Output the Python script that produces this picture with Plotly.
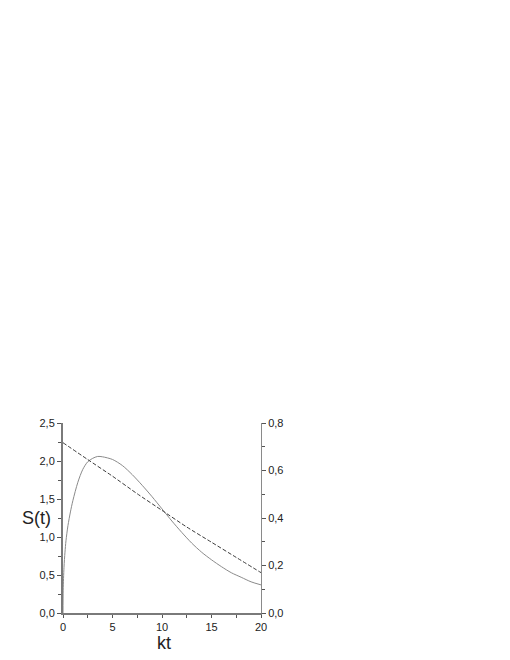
import plotly.graph_objects as go

# Solid curve, left axis S(t)
kt_solid = [0, 0.02, 0.1, 0.2, 0.3, 0.5, 0.75, 1.0, 1.5, 2.0, 2.5, 3.0, 3.5, 4.0, 5, 6, 7, 8, 9, 10,
            11, 12, 13, 14, 15, 16, 17, 18, 19, 20]
s_solid = [0, 0.3, 0.6, 0.8, 0.95, 1.15, 1.33, 1.48, 1.72, 1.89, 1.99, 2.035, 2.06, 2.055, 2.02, 1.94, 1.82, 1.68,
           1.53, 1.37, 1.21, 1.06, 0.92, 0.80, 0.70, 0.61, 0.53, 0.47, 0.41, 0.37]

# Dashed curve, right axis
kt_dash = [0, 2.5, 5, 7.5, 10, 12.5, 15, 17.5, 20]
v_dash = [0.717, 0.646, 0.576, 0.502, 0.432, 0.362, 0.298, 0.234, 0.170]

left_ticks = [0.0, 0.5, 1.0, 1.5, 2.0, 2.5]
right_ticks = [0.0, 0.2, 0.4, 0.6, 0.8]
x_ticks = [0, 5, 10, 15, 20]

fig = go.Figure()
fig.add_trace(go.Scatter(x=kt_solid, y=s_solid, mode="lines",
                         line=dict(color="#8a8a8a", width=1, shape="spline", smoothing=0.8),
                         xaxis="x", yaxis="y", showlegend=False, hoverinfo="skip"))
fig.add_trace(go.Scatter(x=kt_dash, y=v_dash, mode="lines",
                         line=dict(color="#3c3c3c", width=1, dash="4px,2px", shape="spline", smoothing=0.6),
                         xaxis="x", yaxis="y2", showlegend=False, hoverinfo="skip"))

font = dict(family="Liberation Sans, Arial, sans-serif", size=11, color="#222222")
tickcol = "#555555"

fig.update_layout(
    width=510, height=660,
    margin=dict(l=55, r=257, t=415, b=55, autoexpand=False),
    paper_bgcolor="white", plot_bgcolor="white",
    separators=", ",
    font=font,
    xaxis=dict(range=[0, 20], tickvals=x_ticks, tickformat="d", ticks="outside", ticklen=3, tickcolor=tickcol,
               showline=True, linecolor="#7a7a7a", linewidth=2, showgrid=False, zeroline=False,
               minor=dict(ticks="outside", dtick=2.5, ticklen=3, tickcolor=tickcol), tickfont=font),
    xaxis2=dict(range=[0, 20], overlaying="x", side="bottom", anchor="y", tickvals=x_ticks, ticks="inside", ticklen=3,
                tickcolor=tickcol, showticklabels=False, showline=False, showgrid=False, zeroline=False,
                minor=dict(ticks="inside", dtick=2.5, ticklen=3, tickcolor=tickcol)),
    xaxis3=dict(range=[0, 20], overlaying="x", side="top", anchor="y", ticks="", showticklabels=False,
                showline=True, linecolor="#9a9a9a", linewidth=1, showgrid=False, zeroline=False),
    yaxis=dict(range=[0, 2.5], tickvals=left_ticks, tickformat=".1f", ticks="outside", ticklen=4, tickcolor=tickcol,
               showline=True, linecolor="#7a7a7a", linewidth=2, showgrid=False, zeroline=False,
               minor=dict(ticks="outside", dtick=0.25, ticklen=3, tickcolor=tickcol), tickfont=font),
    yaxis2=dict(range=[0, 0.8], overlaying="y", side="right", anchor="x", tickvals=right_ticks, tickformat=".1f",
                ticks="outside", ticklen=4, tickcolor=tickcol, showline=True, linecolor="#8a8a8a", linewidth=1,
                showgrid=False, zeroline=False, minor=dict(ticks="outside", dtick=0.1, ticklen=3, tickcolor=tickcol),
                tickfont=font),
    annotations=[
        dict(text="S(t)", xref="paper", yref="paper", x=-0.134, y=0.5, showarrow=False,
             font=dict(family="Liberation Sans, Arial, sans-serif", size=18, color="#222222"),
             xanchor="center", yanchor="middle"),
        dict(text="kt", xref="paper", yref="paper", x=0.51, y=-0.16, showarrow=False,
             font=dict(family="Liberation Sans, Arial, sans-serif", size=18, color="#222222"),
             xanchor="center", yanchor="middle"),
    ],
)

fig.write_html("out.html")
